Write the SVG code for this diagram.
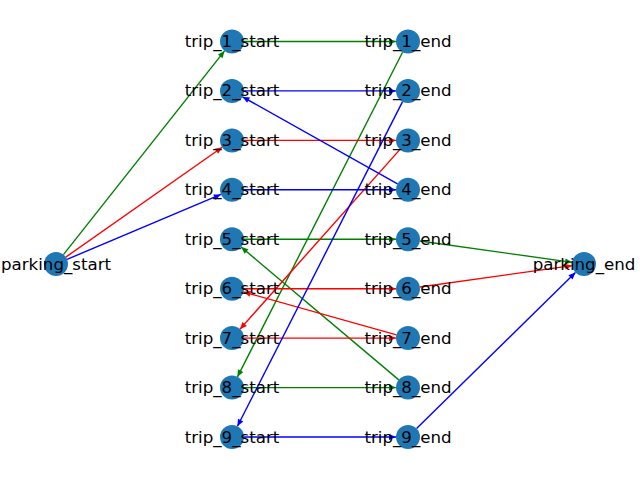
<svg xmlns="http://www.w3.org/2000/svg" width="640" height="480" viewBox="0 0 640 480">
<style>
.n{fill:#1f78b4}
.t{font-family:"DejaVu Sans",sans-serif;font-size:16.67px;fill:#000;text-anchor:middle;dominant-baseline:central}
.e{stroke-width:1.4;fill:none}
.g{stroke:#008000;marker-end:url(#ag)}
.r{stroke:#ff0000;marker-end:url(#ar)}
.b{stroke:#0000ff;marker-end:url(#ab)}
</style>
<defs>
<marker id="ag" markerUnits="userSpaceOnUse" orient="auto" refX="0" refY="0" markerWidth="20" markerHeight="20" viewBox="-10 -10 20 20" overflow="visible"><path d="M0,0 L-7,-3 L-7,3 z" fill="#008000"/></marker>
<marker id="ar" markerUnits="userSpaceOnUse" orient="auto" refX="0" refY="0" markerWidth="20" markerHeight="20" viewBox="-10 -10 20 20" overflow="visible"><path d="M0,0 L-7,-3 L-7,3 z" fill="#ff0000"/></marker>
<marker id="ab" markerUnits="userSpaceOnUse" orient="auto" refX="0" refY="0" markerWidth="20" markerHeight="20" viewBox="-10 -10 20 20" overflow="visible"><path d="M0,0 L-7,-3 L-7,3 z" fill="#0000ff"/></marker>
</defs>
<rect width="640" height="480" fill="#fff"/>
<g id="edges">
<line class="e g" x1="63.44" y1="254.59" x2="224.56" y2="50.91"/>
<line class="e g" x1="244" y1="41.5" x2="396" y2="41.5"/>
<line class="e g" x1="402.56" y1="52.2" x2="237.44" y2="376.9"/>
<line class="e g" x1="244" y1="387.6" x2="396" y2="387.6"/>
<line class="e g" x1="398.82" y1="379.87" x2="241.18" y2="247.03"/>
<line class="e g" x1="244" y1="239.3" x2="396" y2="239.3"/>
<line class="e g" x1="419.88" y1="240.97" x2="572.12" y2="262.33"/>
<line class="e r" x1="65.82" y1="257.1" x2="222.18" y2="147.3"/>
<line class="e r" x1="244" y1="140.4" x2="396" y2="140.4"/>
<line class="e r" x1="400.02" y1="149.36" x2="239.98" y2="329.14"/>
<line class="e r" x1="244" y1="338.1" x2="396" y2="338.1"/>
<line class="e r" x1="396.45" y1="334.86" x2="243.55" y2="291.94"/>
<line class="e r" x1="244" y1="288.7" x2="396" y2="288.7"/>
<line class="e r" x1="419.88" y1="287.03" x2="572.12" y2="265.67"/>
<line class="e b" x1="67.06" y1="259.34" x2="220.94" y2="194.46"/>
<line class="e b" x1="244" y1="189.8" x2="396" y2="189.8"/>
<line class="e b" x1="397.54" y1="183.92" x2="242.46" y2="96.78"/>
<line class="e b" x1="244" y1="90.9" x2="396" y2="90.9"/>
<line class="e b" x1="402.56" y1="101.6" x2="237.44" y2="426.3"/>
<line class="e b" x1="244" y1="437" x2="396" y2="437"/>
<line class="e b" x1="416.56" y1="428.59" x2="575.44" y2="272.41"/>
</g>
<g id="parking_start"><circle class="n" cx="56" cy="264" r="12"/><text class="t" x="56" y="264">parking_start</text></g>
<g id="parking_end"><circle class="n" cx="584" cy="264" r="12"/><text class="t" x="584" y="264">parking_end</text></g>
<g id="trip_1_start"><circle class="n" cx="232" cy="41.5" r="12"/><text class="t" x="232" y="41.5">trip_1_start</text></g>
<g id="trip_2_start"><circle class="n" cx="232" cy="90.9" r="12"/><text class="t" x="232" y="90.9">trip_2_start</text></g>
<g id="trip_3_start"><circle class="n" cx="232" cy="140.4" r="12"/><text class="t" x="232" y="140.4">trip_3_start</text></g>
<g id="trip_4_start"><circle class="n" cx="232" cy="189.8" r="12"/><text class="t" x="232" y="189.8">trip_4_start</text></g>
<g id="trip_5_start"><circle class="n" cx="232" cy="239.3" r="12"/><text class="t" x="232" y="239.3">trip_5_start</text></g>
<g id="trip_6_start"><circle class="n" cx="232" cy="288.7" r="12"/><text class="t" x="232" y="288.7">trip_6_start</text></g>
<g id="trip_7_start"><circle class="n" cx="232" cy="338.1" r="12"/><text class="t" x="232" y="338.1">trip_7_start</text></g>
<g id="trip_8_start"><circle class="n" cx="232" cy="387.6" r="12"/><text class="t" x="232" y="387.6">trip_8_start</text></g>
<g id="trip_9_start"><circle class="n" cx="232" cy="437" r="12"/><text class="t" x="232" y="437">trip_9_start</text></g>
<g id="trip_1_end"><circle class="n" cx="408" cy="41.5" r="12"/><text class="t" x="408" y="41.5">trip_1_end</text></g>
<g id="trip_2_end"><circle class="n" cx="408" cy="90.9" r="12"/><text class="t" x="408" y="90.9">trip_2_end</text></g>
<g id="trip_3_end"><circle class="n" cx="408" cy="140.4" r="12"/><text class="t" x="408" y="140.4">trip_3_end</text></g>
<g id="trip_4_end"><circle class="n" cx="408" cy="189.8" r="12"/><text class="t" x="408" y="189.8">trip_4_end</text></g>
<g id="trip_5_end"><circle class="n" cx="408" cy="239.3" r="12"/><text class="t" x="408" y="239.3">trip_5_end</text></g>
<g id="trip_6_end"><circle class="n" cx="408" cy="288.7" r="12"/><text class="t" x="408" y="288.7">trip_6_end</text></g>
<g id="trip_7_end"><circle class="n" cx="408" cy="338.1" r="12"/><text class="t" x="408" y="338.1">trip_7_end</text></g>
<g id="trip_8_end"><circle class="n" cx="408" cy="387.6" r="12"/><text class="t" x="408" y="387.6">trip_8_end</text></g>
<g id="trip_9_end"><circle class="n" cx="408" cy="437" r="12"/><text class="t" x="408" y="437">trip_9_end</text></g>
</svg>
